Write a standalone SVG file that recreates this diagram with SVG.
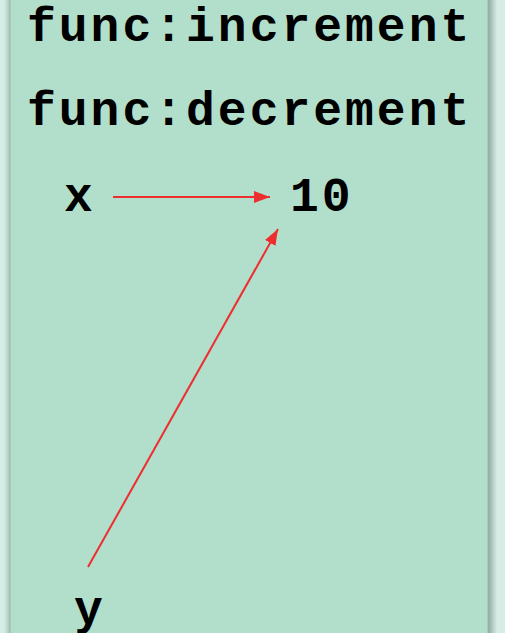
<svg xmlns="http://www.w3.org/2000/svg" width="505" height="633" viewBox="0 0 505 633">
<style>
.t{font-family:"Liberation Mono","Courier New",monospace;font-weight:bold;font-size:48px;letter-spacing:3px;fill:#000}
.c{stroke:#ee2e2e;stroke-width:2;fill:none}
</style>
<defs>
<linearGradient id="sh" x1="0" x2="1" y1="0" y2="0">
<stop offset="0" stop-color="#8fa89d"/>
<stop offset="1" stop-color="#d6ede5"/>
</linearGradient>
<linearGradient id="shl" x1="0" x2="1" y1="0" y2="0">
<stop offset="0" stop-color="#d6ede5"/>
<stop offset="1" stop-color="#a9c4b8"/>
</linearGradient>
<marker id="ah" viewBox="0 0 16 12" refX="16" refY="6" markerWidth="16" markerHeight="12" markerUnits="userSpaceOnUse" orient="auto">
<path d="M0,0 L16,6 L0,12 Z" fill="#ee2e2e"/>
</marker>
</defs>
<rect x="0" y="0" width="505" height="633" fill="#d6ede5"/>
<rect x="4" y="0" width="6" height="633" fill="url(#shl)"/>
<rect x="488" y="0" width="9" height="633" fill="url(#sh)"/>
<g id="frame">
<rect x="10" y="-5" width="478" height="645" fill="#b2dfcc" stroke="#9bb5aa" stroke-width="1"/>
</g>
<g id="func-increment"><text class="t" x="27" y="41">func:increment</text></g>
<g id="func-decrement"><text class="t" x="27" y="125">func:decrement</text></g>
<g id="x"><text class="t" x="64" y="211">x</text></g>
<g id="value-10"><text class="t" x="290" y="211">10</text></g>
<g id="y"><text class="t" x="74" y="624">y</text></g>
<g id="connectors">
<line class="c" x1="113" y1="197" x2="270" y2="197" marker-end="url(#ah)"/>
<line class="c" x1="88" y1="567" x2="278" y2="229" marker-end="url(#ah)"/>
</g>
</svg>
